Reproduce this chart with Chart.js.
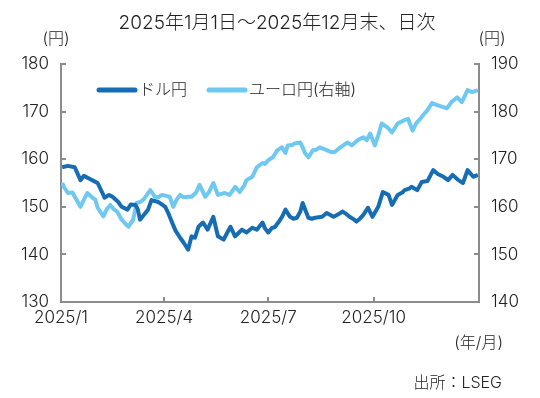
<!DOCTYPE html>
<html><head><meta charset="utf-8">
<script src="https://cdn.jsdelivr.net/npm/chart.js@4"></script>
<style>html,body{margin:0;padding:0;background:#fff}#wrap{width:540px;height:398px}</style>
</head><body><div id="wrap"><canvas id="c" width="540" height="398"></canvas></div>
<script>
const titleText = "2025年1月1日～2025年12月末、日次";
const seriesLabels = ["ドル円", "ユーロ円(右軸)"];
const unitLeft = "(円)";
const unitRight = "(円)";
const xUnit = "(年/月)";
const sourceText = "出所：LSEG";
const tickDays = [0, 90, 181, 273];
const tickLabels = ["2025/1", "2025/4", "2025/7", "2025/10"];

const usdDates = ["01-02","01-07","01-13","01-18","01-21","01-25","01-29","02-02","02-06","02-08","02-12","02-15","02-20","02-23","02-28","03-03","03-07","03-09","03-11","03-15","03-18","03-21","03-27","03-30","04-02","04-05","04-08","04-11","04-15","04-18","04-22","04-25","04-28","05-01","05-05","05-09","05-14","05-18","05-23","05-26","05-29","06-02","06-05","06-08","06-12","06-17","06-21","06-26","06-28","07-01","07-04","07-07","07-10","07-13","07-16","07-20","07-23","07-26","07-29","07-31","08-05","08-08","08-11","08-17","08-21","08-27","08-30","09-02","09-04","09-07","09-10","09-14","09-16","09-19","09-22","09-26","09-30","10-05","10-09","10-14","10-17","10-22","10-26","10-28","11-01","11-03","11-08","11-12","11-17","11-22","11-26","12-01","12-05","12-09","12-14","12-18","12-22","12-27","12-31"];
const usdValues = [158.3,158.6,158.3,155.6,156.5,156.0,155.5,155.0,153.0,151.9,152.5,152.1,151.0,150.0,149.4,150.5,150.4,149.5,147.3,148.5,149.4,151.4,151.0,150.5,150.0,148.5,146.7,145.0,143.5,142.5,141.0,143.8,143.5,145.8,146.7,145.2,147.9,143.8,143.1,144.5,145.8,143.8,144.5,145.2,144.6,145.6,145.2,146.7,145.5,144.6,145.5,145.8,146.8,147.9,149.4,147.9,147.5,147.7,149.0,150.8,147.7,147.5,147.7,147.9,148.7,147.9,148.3,148.7,149.0,148.5,147.9,147.3,146.9,147.5,148.3,149.8,147.9,150.0,153.1,152.5,150.4,152.5,153.0,153.5,153.8,154.2,153.5,155.2,155.4,157.7,156.9,156.3,155.6,156.7,155.6,155.0,157.7,156.3,156.7];

const eurDates = ["01-02","01-04","01-07","01-11","01-13","01-18","01-21","01-24","01-28","01-31","02-02","02-07","02-10","02-13","02-16","02-19","02-23","02-26","03-01","03-05","03-08","03-11","03-14","03-17","03-20","03-24","03-27","03-30","04-03","04-06","04-09","04-12","04-15","04-18","04-22","04-25","04-29","05-02","05-07","05-10","05-14","05-18","05-24","05-28","05-30","06-02","06-06","06-10","06-12","06-17","06-21","06-26","06-28","07-01","07-05","07-09","07-13","07-16","07-18","07-22","07-24","07-29","07-31","08-02","08-05","08-09","08-12","08-15","08-20","08-25","08-28","09-02","09-05","09-08","09-12","09-17","09-22","09-25","09-28","10-02","10-05","10-08","10-13","10-17","10-22","10-27","10-31","11-04","11-07","11-10","11-14","11-17","11-21","11-25","11-30","12-04","12-08","12-13","12-17","12-22","12-26","12-31"];
const eurValues = [165.0,164.0,162.9,163.0,162.1,160.0,161.5,162.9,162.0,161.5,159.8,158.0,159.5,160.4,159.5,159.0,157.3,156.5,155.8,157.3,160.8,161.0,161.5,162.5,163.5,162.1,162.0,162.5,162.3,162.1,160.0,161.5,162.5,162.0,162.1,162.1,163.0,164.6,162.1,163.0,165.0,162.5,162.9,162.5,163.1,164.2,163.1,164.5,165.6,166.3,168.3,169.2,169.0,169.8,170.4,171.9,172.5,171.3,172.9,173.0,173.3,173.5,172.5,171.3,170.4,171.9,172.0,172.5,172.0,171.5,171.5,172.5,173.0,173.5,172.9,174.0,174.6,174.0,175.4,172.9,175.0,177.5,176.7,175.6,177.5,178.1,178.5,176.0,177.5,178.3,179.5,180.3,181.8,181.4,181.0,180.7,182.0,183.0,182.0,184.5,184.1,184.5];

function dayOfYear(md) {
  const [m, d] = md.split('-').map(Number);
  return (Date.UTC(2025, m - 1, d) - Date.UTC(2025, 0, 1)) / 864e5;
}
const toPoints = (dates, vals) => dates.map((d, i) => ({ x: dayOfYear(d), y: vals[i] }));

const FONT = 'Inter, "Noto Sans CJK JP", sans-serif';
const AXIS = '#8c8c8c';
const TXT = '#222';
const DARK = '#176db3';
const LIGHT = '#6ec8f0';

const decor = {
  id: 'decor',
  afterDraw(chart) {
    const ctx = chart.ctx, a = chart.chartArea;
    ctx.save();
    ctx.fillStyle = TXT;
    ctx.textBaseline = 'middle';
    ctx.font = '300 19px ' + FONT;
    ctx.textAlign = 'center';
    ctx.fillText(titleText, 277, 23);
    ctx.font = '300 16px ' + FONT;
    ctx.fillText(unitLeft, a.left - 5, 39);
    ctx.fillText(unitRight, a.right + 13, 39);
    ctx.textAlign = 'right';
    ctx.fillText(xUnit, 503, 343);
    ctx.fillText(sourceText, 502, 383);
    // legend inside plot
    const ly = 90;
    let lx = a.left + 36;
    ctx.textAlign = 'left';
    ctx.font = '300 16px ' + FONT;
    chart.data.datasets.forEach((ds, i) => {
      ctx.strokeStyle = ds.borderColor;
      ctx.lineWidth = 5;
      ctx.lineCap = 'round';
      ctx.beginPath();
      ctx.moveTo(lx + 2, ly);
      ctx.lineTo(lx + 38, ly);
      ctx.stroke();
      ctx.fillStyle = TXT;
      ctx.fillText(ds.label, lx + 42, ly);
      lx += 42 + ctx.measureText(ds.label).width + 20;
    });
    ctx.restore();
  }
};

const tickFont = { family: FONT, size: 17, weight: 300 };

new Chart(document.getElementById('c'), {
  type: 'line',
  data: {
    datasets: [
      { label: seriesLabels[0], data: toPoints(usdDates, usdValues), borderColor: DARK, borderWidth: 4, pointRadius: 0, tension: 0, yAxisID: 'y', borderJoinStyle: 'round' },
      { label: seriesLabels[1], data: toPoints(eurDates, eurValues), borderColor: LIGHT, borderWidth: 4, pointRadius: 0, tension: 0, yAxisID: 'y2', borderJoinStyle: 'round' }
    ]
  },
  options: {
    responsive: false,
    animation: false,
    devicePixelRatio: 1,
    layout: { padding: { top: 64, left: 0, right: 0, bottom: 0 } },
    plugins: { legend: { display: false }, title: { display: false }, tooltip: { enabled: false } },
    scales: {
      x: {
        type: 'linear', min: 0, max: 365,
        afterBuildTicks: s => { s.ticks = tickDays.map(v => ({ value: v })); },
        afterFit: s => { s.height = 96; },
        ticks: { callback: v => tickLabels[tickDays.indexOf(v)], font: tickFont, color: TXT, padding: 11, maxRotation: 0, autoSkip: false },
        grid: { drawOnChartArea: false, drawTicks: true, tickLength: -5, color: AXIS, lineWidth: 2 },
        border: { color: AXIS, width: 2 }
      },
      y: {
        position: 'left', min: 130, max: 180,
        afterFit: s => { s.width = 61; },
        ticks: { stepSize: 10, font: tickFont, color: TXT, padding: 17 },
        grid: { drawOnChartArea: false, drawTicks: true, tickLength: -5, color: AXIS, lineWidth: 2 },
        border: { color: AXIS, width: 2 }
      },
      y2: {
        position: 'right', min: 140, max: 190,
        afterFit: s => { s.width = 61; },
        ticks: { stepSize: 10, font: tickFont, color: TXT, padding: 17 },
        grid: { drawOnChartArea: false, drawTicks: true, tickLength: -5, color: AXIS, lineWidth: 2 },
        border: { color: AXIS, width: 2 }
      }
    }
  },
  plugins: [decor]
});
</script>
</body></html>
